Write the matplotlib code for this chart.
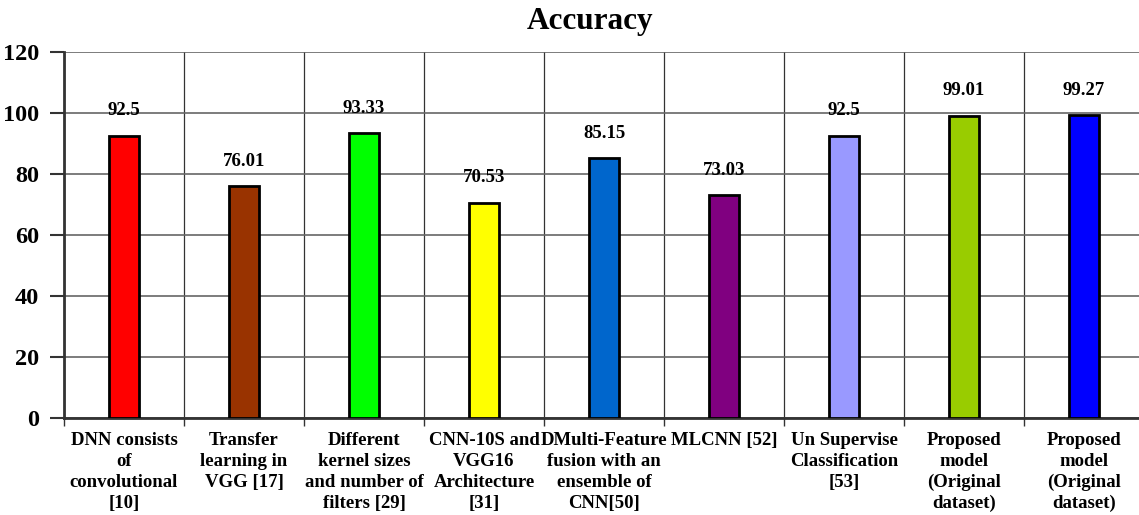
import matplotlib.pyplot as plt
import numpy as np

plt.rcParams['font.family'] = ['Liberation Serif', 'DejaVu Serif']
plt.rcParams['font.weight'] = 'bold'

methods = [
    'DNN consists\nof\nconvolutional\n[10]',
    'Transfer\nlearning in\nVGG [17]',
    'Different\nkernel sizes\nand number of\nfilters [29]',
    'CNN-10S and\nVGG16\nArchitecture\n[31]',
    'DMulti-Feature\nfusion with an\nensemble of\nCNN[50]',
    'MLCNN [52]',
    'Un Supervise\nClassification\n[53]',
    'Proposed\nmodel\n(Original\ndataset)',
    'Proposed\nmodel\n(Original\ndataset)',
]
accuracy = [92.5, 76.01, 93.33, 70.53, 85.15, 73.03, 92.5, 99.01, 99.27]
labels = ['92.5', '76.01', '93.33', '70.53', '85.15', '73.03', '92.5', '99.01', '99.27']
colors = ['#FF0000', '#993300', '#00FF00', '#FFFF00', '#0066CC',
          '#800080', '#9999FF', '#99CC00', '#0000FF']

fig = plt.figure(figsize=(11.39, 5.15), dpi=100)
ax = fig.add_axes([64 / 1139, 97 / 515, 1080 / 1139, 366 / 515])

x = np.arange(len(accuracy))
ax.bar(x, accuracy, width=0.25, color=colors, edgecolor='black', linewidth=2, zorder=3)

for xi, v, s in zip(x, accuracy, labels):
    ax.annotate(s, (xi, v), xytext=(0, 12), textcoords='offset points',
                ha='center', va='bottom', fontsize=13.5, fontweight='bold')

ax.set_xlim(-0.5, len(accuracy) - 0.5)
ax.set_ylim(0, 120)
ax.set_yticks(range(0, 121, 20))
ax.set_yticklabels([str(v) for v in range(0, 121, 20)], fontsize=17.5, fontweight='bold')

# category names sit under the bars, short ticks mark the cell borders
ax.set_xticks(x)
ax.set_xticklabels(methods, fontsize=13.5, fontweight='bold', linespacing=1.3)
ax.tick_params(axis='x', which='major', length=0, pad=10)
ax.set_xticks(np.arange(-0.5, len(accuracy), 1.0), minor=True)
ax.tick_params(axis='x', which='minor', length=6, width=1, color='#333333')
ax.tick_params(axis='y', length=10, width=1.5, color='#333333', pad=8)

ax.yaxis.grid(True, color='#666666', linewidth=1.2, zorder=0)
ax.xaxis.grid(True, which='minor', color='#333333', linewidth=0.9, zorder=0)

for side in ['top', 'right']:
    ax.spines[side].set_visible(False)
for side in ['left', 'bottom']:
    ax.spines[side].set_color('#333333')
    ax.spines[side].set_linewidth(2)

fig.text(590 / 1139, 1 - 21 / 515, 'Accuracy', ha='center', va='center',
         fontsize=22.5, fontweight='bold')

plt.savefig('out.png', dpi=100)
